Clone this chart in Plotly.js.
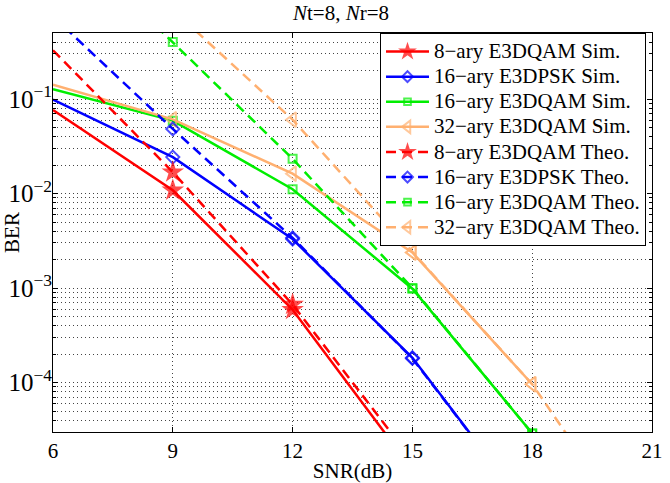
<!DOCTYPE html>
<html>
<head>
<meta charset="utf-8">
<script src="https://cdn.plot.ly/plotly-3.0.1.min.js"></script>
<style>html,body{margin:0;padding:0;background:#fff;}#chart{width:670px;height:483px;}</style>
</head>
<body>
<div id="chart"></div>
<script>
// SNR grid (dB)
const snr = [6, 9, 12, 15, 18, 21];

// Simulated BER
const sim8QAM   = [0.0766, 0.01084, 5.9e-4, 1.2e-5, null, null];
const sim16PSK  = [0.0984, 0.0243, 3.3e-3, 1.83e-4, 4.0e-6, null];
const sim16QAM  = [0.127, 0.0591, 0.0111, 9.85e-4, 2.9e-5, null];
const sim32QAM  = [0.1416, 0.0610, 0.01625, 2.38e-3, 9.6e-5, null];

// Theoretical BER
const theo8QAM  = [0.328, 0.01686, 6.7e-4, 1.5e-5, null, null];
const theo16PSK = [0.75, 0.0483, 3.4e-3, 1.8e-4, 4.0e-6, null];
const theo16QAM = [6.8, 0.401, 0.0233, 1.0e-3, 2.9e-5, null];
const theo32QAM = [12, 0.88, 0.0605, 2.38e-3, 9.6e-5, 1.4e-6];

const names = [
  "8\u2212ary E3DQAM Sim.", "16\u2212ary E3DPSK Sim.", "16\u2212ary E3DQAM Sim.", "32\u2212ary E3DQAM Sim.",
  "8\u2212ary E3DQAM Theo.", "16\u2212ary E3DPSK Theo.", "16\u2212ary E3DQAM Theo.", "32\u2212ary E3DQAM Theo."
];

const RED = "#ff0000", BLUE = "#0000ff", GREEN = "#00ee00", ORANGE = "#ffb070";
const styles = [
  {c: RED,    sym: "star",               sz: 17, lw: 0},
  {c: BLUE,   sym: "diamond-open",       sz: 10, lw: 2},
  {c: GREEN,  sym: "square-open",        sz: 8,  lw: 2},
  {c: ORANGE, sym: "triangle-left-open", sz: 13, lw: 2}
];
const series = [sim8QAM, sim16PSK, sim16QAM, sim32QAM, theo8QAM, theo16PSK, theo16QAM, theo32QAM];

const traces = series.map((ys, i) => {
  const s = styles[i % 4];
  const dashed = i >= 4;
  return {
    type: "scatter", mode: "lines+markers",
    name: '<span style="font-size:21px">' + names[i] + '</span>',
    x: snr, y: ys,
    line: {color: s.c, width: 2.5, dash: dashed ? "10px,6px" : "solid"},
    marker: {
      symbol: s.sym, color: s.c,
      size: snr.map(v => v === 6 ? 0 : s.sz),
      line: {color: s.c, width: s.lw}
    },
    connectgaps: false
  };
});

const FAM = "'Liberation Serif', 'Times New Roman', Times, 'Nimbus Roman', 'DejaVu Serif', serif";
const font = {family: FAM, size: 20, color: "#000"};
const gridStyle = {gridcolor: "#444", griddash: "1px,3px", gridwidth: 1};

const layout = {
  width: 670, height: 483,
  margin: {l: 53, r: 18, t: 33, b: 51},
  paper_bgcolor: "#fff", plot_bgcolor: "#fff",
  font: font,
  showlegend: true,
  title: {text: "<i>N</i>t=8, <i>N</i>r=8", font: {family: FAM, size: 21, color: "#000"}, x: 0.509, xanchor: "center", y: 0.99, yanchor: "top"},
  xaxis: Object.assign({
    type: "linear", range: [6, 21], dtick: 3, tick0: 6,
    showline: true, mirror: "ticks", linecolor: "#000", linewidth: 1,
    ticks: "inside", ticklen: 5, tickcolor: "#000",
    showgrid: true, zeroline: false,
    title: {text: "SNR(dB)", font: {family: FAM, size: 21, color: "#000"}, standoff: 2},
    tickfont: {family: FAM, size: 21, color: "#000"}
  }, gridStyle),
  yaxis: Object.assign({
    type: "log", range: [Math.log10(3e-5), Math.log10(0.5)], dtick: 1,
    exponentformat: "power", showexponent: "all",
    showline: true, mirror: "ticks", linecolor: "#000", linewidth: 1,
    ticks: "inside", ticklen: 5, tickcolor: "#000",
    ticklabelstandoff: -4,
    showgrid: true, zeroline: false,
    minor: {showgrid: true, gridcolor: "#444", griddash: "1px,3px", ticks: "inside", ticklen: 3, tickcolor: "#000"},
    title: {text: "BER", font: {family: FAM, size: 21, color: "#000"}, standoff: 2},
    tickfont: {family: FAM, size: 20, color: "#000"}
  }, gridStyle),
  legend: {
    x: 0.99, xanchor: "right", y: 1, yanchor: "top",
    bgcolor: "#fff", bordercolor: "#000", borderwidth: 1,
    font: {family: FAM, size: 17, color: "#000"},
    tracegroupgap: 0, itemwidth: 43
  }
};

Plotly.newPlot("chart", traces, layout, {displayModeBar: false, staticPlot: true});
</script>
</body>
</html>
